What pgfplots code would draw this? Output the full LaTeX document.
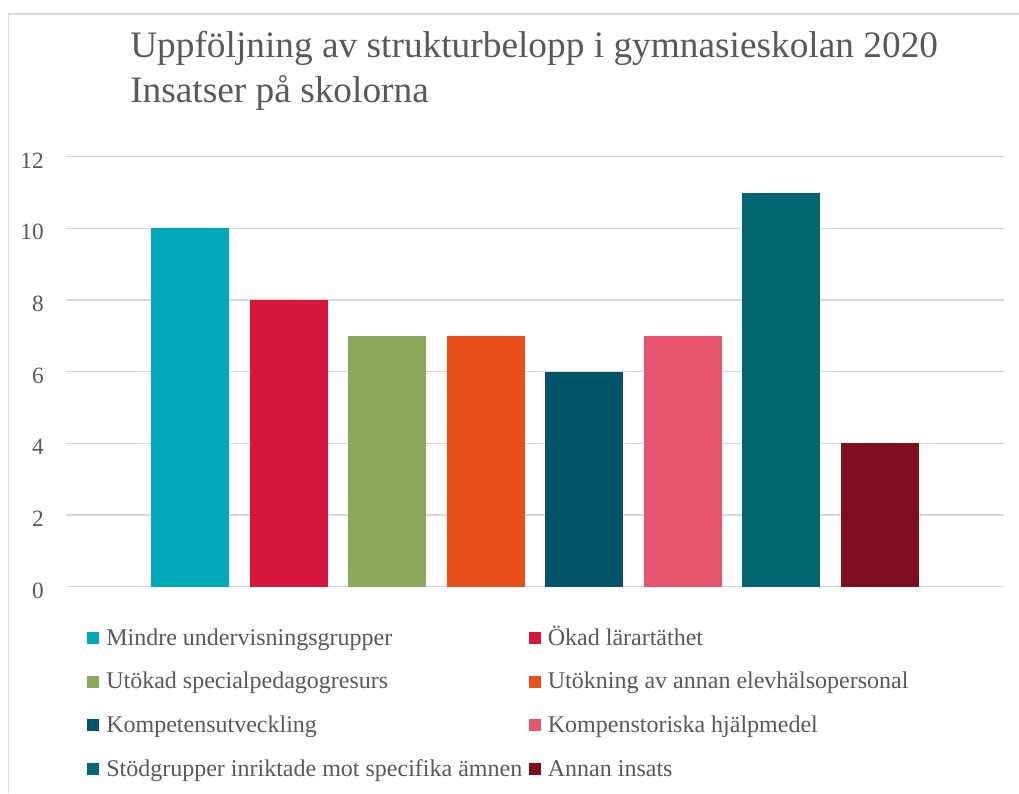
\documentclass[border=0pt]{standalone}
\usepackage{pgfplots}
\pgfplotsset{compat=1.18}
\usepackage{fontspec}
\setmainfont{Liberation Serif}
\definecolor{txt}{HTML}{595959}
\definecolor{gridc}{HTML}{D9D9D9}
\definecolor{c1}{HTML}{00A9BA}
\definecolor{c2}{HTML}{D6163A}
\definecolor{c3}{HTML}{8CA85C}
\definecolor{c4}{HTML}{E94E1B}
\definecolor{c5}{HTML}{005468}
\definecolor{c6}{HTML}{E8546E}
\definecolor{c7}{HTML}{006670}
\definecolor{c8}{HTML}{7E0E20}
\begin{document}
\begin{tikzpicture}
\useasboundingbox (0,0) rectangle (764.25pt,594.75pt);
\draw[gridc, line width=1.1pt] (6.4pt,0) -- (6.4pt,584.25pt) -- (764.25pt,584.25pt);
\node[anchor=base west, inner sep=0pt, font=\fontsize{28}{34}\selectfont, text=txt] at (97.5pt,551.25pt) {Uppföljning av strukturbelopp i gymnasieskolan 2020};
\node[anchor=base west, inner sep=0pt, font=\fontsize{28}{34}\selectfont, text=txt] at (97.5pt,517.5pt) {Insatser på skolorna};
\begin{axis}[
 at={(49.5pt,154.7pt)}, anchor=south west,
 scale only axis, width=703.5pt, height=322.5pt,
 xmin=-0.258, xmax=9.258, ymin=0, ymax=12,
 ytick={0,2,...,12}, xtick=\empty,
 ymajorgrids, grid style={gridc, line width=1.1pt},
 axis line style={draw=none},
 major tick length=0pt,
 yticklabel style={font=\fontsize{17.5}{21}\selectfont, text=txt, inner sep=0pt, xshift=-16.5pt, yshift=-2.8pt},
 /pgf/number format/assume math mode=true,
 bar width=58.5pt,
 legend columns=2,
 legend cell align=left,
 legend style={draw=none, fill=none, at={(0.02274,-0.0983)}, anchor=north west, inner sep=0pt, outer sep=0pt, font=\fontsize{18}{21}\selectfont, text=txt, row sep=17.3pt, nodes={inner sep=0pt, text height=12pt, text depth=3.5pt}, /tikz/every odd column/.append style={column sep=5.25pt}, /tikz/every even column/.append style={column sep=5pt}},
 legend image code/.code={\fill[#1] (0pt,-3.5pt) rectangle (9pt,5.5pt);},
]
\addplot[ybar, bar shift=0pt, fill=c1, draw=none] coordinates {(1,10)};
\addlegendentry{Mindre undervisningsgrupper}
\addplot[ybar, bar shift=0pt, fill=c2, draw=none] coordinates {(2,8)};
\addlegendentry{Ökad lärartäthet}
\addplot[ybar, bar shift=0pt, fill=c3, draw=none] coordinates {(3,7)};
\addlegendentry{Utökad specialpedagogresurs}
\addplot[ybar, bar shift=0pt, fill=c4, draw=none] coordinates {(4,7)};
\addlegendentry{Utökning av annan elevhälsopersonal}
\addplot[ybar, bar shift=0pt, fill=c5, draw=none] coordinates {(5,6)};
\addlegendentry{Kompetensutveckling}
\addplot[ybar, bar shift=0pt, fill=c6, draw=none] coordinates {(6,7)};
\addlegendentry{Kompenstoriska hjälpmedel}
\addplot[ybar, bar shift=0pt, fill=c7, draw=none] coordinates {(7,11)};
\addlegendentry{Stödgrupper inriktade mot specifika ämnen}
\addplot[ybar, bar shift=0pt, fill=c8, draw=none] coordinates {(8,4)};
\addlegendentry{Annan insats}
\end{axis}
\end{tikzpicture}
\end{document}
